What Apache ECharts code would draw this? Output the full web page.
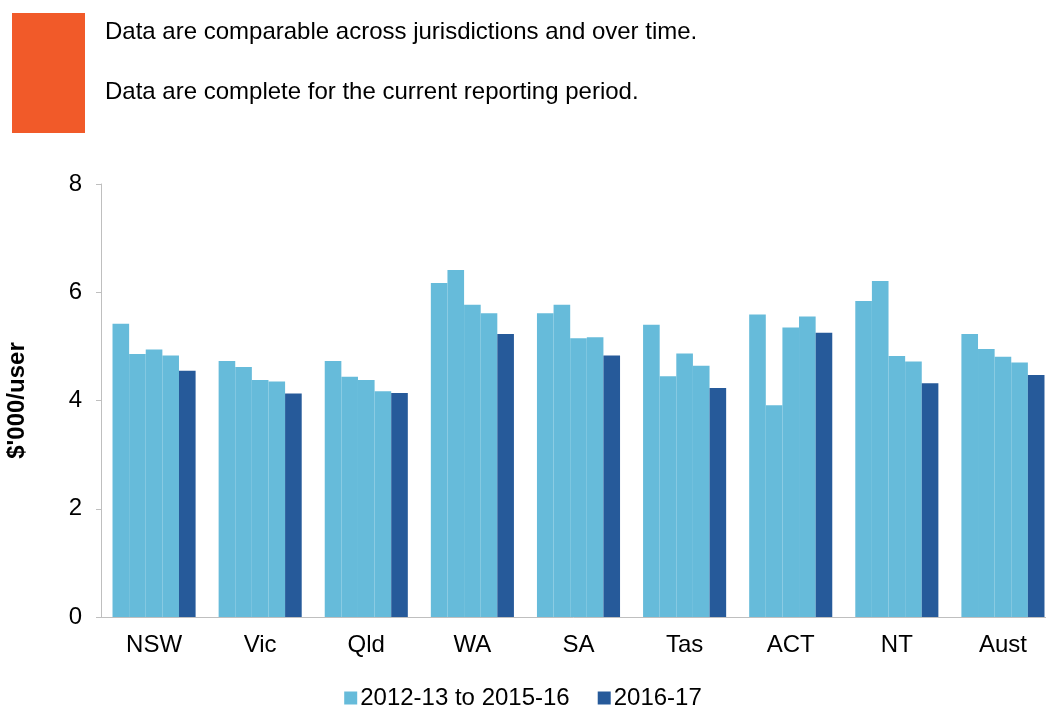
<!DOCTYPE html>
<html>
<head>
    <meta charset="UTF-8">
    <title>Cost per user</title>
    <style>
        html, body { margin: 0; padding: 0; background: #fff; }
        #chart { width: 1046px; height: 707px; }
    </style>
</head>
<body>
    <div id="chart"></div>
    <script src="https://cdn.jsdelivr.net/npm/echarts@6/dist/echarts.min.js"></script>
    <script>
        // jurisdictions
        var categories = ['NSW', 'Vic', 'Qld', 'WA', 'SA', 'Tas', 'ACT', 'NT', 'Aust'];
        // $'000 per user
        var y2012_13 = [5.42, 4.73, 4.73, 6.17, 5.61, 5.40, 5.59, 5.84, 5.23];
        var y2013_14 = [4.86, 4.62, 4.44, 6.41, 5.77, 4.45, 3.91, 6.21, 4.95];
        var y2014_15 = [4.94, 4.38, 4.38, 5.77, 5.15, 4.87, 5.35, 4.82, 4.81];
        var y2015_16 = [4.83, 4.35, 4.17, 5.61, 5.17, 4.64, 5.55, 4.72, 4.70];
        var y2016_17 = [4.55, 4.13, 4.14, 5.23, 4.83, 4.23, 5.25, 4.32, 4.47];
        var yTicks = [0, 2, 4, 6, 8];

        var lightName = '2012-13 to 2015-16';
        var darkName = '2016-17';
        var light = '#66bbda';
        var dark = '#265a9a';
        var font = 'Liberation Sans, Arial, sans-serif';

        function bar(name, data, color) {
            return {
                name: name,
                type: 'bar',
                data: data,
                barGap: '0%',
                barCategoryGap: '21.7%',
                itemStyle: { color: color },
                emphasis: { disabled: true }
            };
        }

        var chart = echarts.init(document.getElementById('chart'));
        chart.setOption({
            animation: false,
            graphic: [
                { type: 'rect', left: 12, top: 13, shape: { width: 73, height: 120 }, style: { fill: '#f15a29' } },
                { type: 'text', left: 105, top: 20, style: { text: 'Data are comparable across jurisdictions and over time.', font: '24px ' + font, fill: '#000' } },
                { type: 'text', left: 105, top: 80, style: { text: 'Data are complete for the current reporting period.', font: '24px ' + font, fill: '#000' } }
            ],
            grid: { left: 101, top: 184, right: -10, bottom: 90, outerBoundsMode: 'none', containLabel: false },
            legend: {
                top: 681,
                left: 'center',
                itemWidth: 13,
                itemHeight: 13,
                itemGap: 28,
                icon: 'rect',
                data: [lightName, darkName],
                textStyle: { fontSize: 24, fontFamily: font, color: '#000', padding: [0, 0, 0, -2] }
            },
            xAxis: {
                type: 'category',
                data: categories,
                axisLine: { lineStyle: { color: '#bfbfbf' } },
                axisTick: { show: false },
                axisLabel: { fontSize: 24, fontFamily: font, color: '#000', margin: 16 }
            },
            yAxis: {
                type: 'value',
                min: yTicks[0],
                max: yTicks[yTicks.length - 1],
                interval: 2,
                name: "$'000/user",
                nameLocation: 'middle',
                nameGap: 72,
                nameTextStyle: { fontSize: 24, fontWeight: 'bold', fontFamily: font, color: '#000' },
                axisLine: { show: true, lineStyle: { color: '#bfbfbf' } },
                axisTick: { show: true, length: 5, lineStyle: { color: '#bfbfbf' } },
                splitLine: { show: false },
                axisLabel: { fontSize: 24, fontFamily: font, color: '#000', margin: 19 }
            },
            series: [
                bar(lightName, y2012_13, light),
                bar(lightName, y2013_14, light),
                bar(lightName, y2014_15, light),
                bar(lightName, y2015_16, light),
                bar(darkName, y2016_17, dark)
            ]
        });
    </script>
</body>
</html>
